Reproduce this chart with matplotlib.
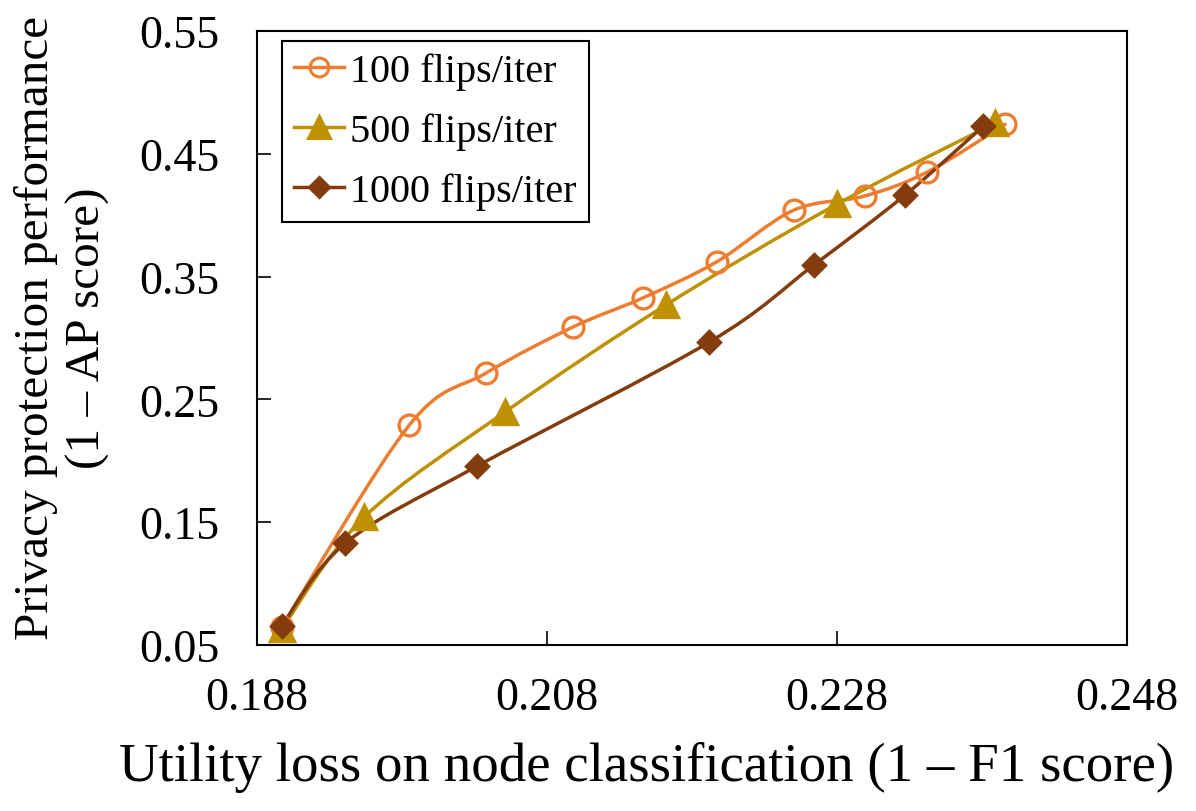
import matplotlib.pyplot as plt
from matplotlib.path import Path
from matplotlib.patches import PathPatch
from matplotlib.lines import Line2D

plt.rcParams['font.family'] = ['Liberation Serif', 'DejaVu Serif']

# Data
x_100 = [0.1897, 0.1985, 0.2038, 0.2098, 0.2146, 0.2197, 0.2250, 0.2299, 0.2342, 0.2396]
y_100 = [0.0647, 0.2290, 0.2715, 0.3090, 0.3326, 0.3620, 0.4040, 0.4156, 0.4350, 0.4740]

x_500 = [0.1897, 0.1954, 0.2051, 0.2162, 0.2280, 0.2389]
y_500 = [0.0630, 0.1542, 0.2397, 0.3269, 0.4090, 0.4750]

x_1000 = [0.1897, 0.1941, 0.2032, 0.2192, 0.2264, 0.2327, 0.2381]
y_1000 = [0.0655, 0.1330, 0.1958, 0.2967, 0.3594, 0.4165, 0.4726]

x_ticks = [0.188, 0.208, 0.228, 0.248]
y_ticks = [0.05, 0.15, 0.25, 0.35, 0.45, 0.55]

labels = ['100 flips/iter', '500 flips/iter', '1000 flips/iter']
colors = ['#ED7D31', '#BF9000', '#843C0C']


def smooth_path(xs, ys):
    # Excel-like smoothed line: cubic Bezier segments with Catmull-Rom control points
    pts = list(zip(xs, ys))
    n = len(pts)
    verts = [pts[0]]
    codes = [Path.MOVETO]
    for i in range(n - 1):
        p0 = pts[i - 1] if i > 0 else pts[i]
        p1 = pts[i]
        p2 = pts[i + 1]
        p3 = pts[i + 2] if i + 2 < n else pts[i + 1]
        c1 = (p1[0] + (p2[0] - p0[0]) / 6, p1[1] + (p2[1] - p0[1]) / 6)
        c2 = (p2[0] - (p3[0] - p1[0]) / 6, p2[1] - (p3[1] - p1[1]) / 6)
        verts += [c1, c2, p2]
        codes += [Path.CURVE4] * 3
    return Path(verts, codes)


fig = plt.figure(figsize=(11.96, 8.12), dpi=100)
ax = fig.add_axes([257 / 1196, 1 - 646 / 812, 870 / 1196, 614 / 812])

series = [
    (x_100, y_100, 'o', 15, False),
    (x_500, y_500, '^', 17, True),
    (x_1000, y_1000, 'D', 11.5, True),
]

handles = []
for (xs, ys, mk, ms, filled), col, lab in zip(series, colors, labels):
    ax.add_patch(PathPatch(smooth_path(xs, ys), fill=False, edgecolor=col, lw=2.5,
                           capstyle='round', joinstyle='round'))
    face = col if filled else 'none'
    ax.plot(xs, ys, ls='none', marker=mk, ms=ms, mfc=face, mec=col, mew=2.4)
    handles.append(Line2D([], [], color=col, lw=2.5, marker=mk, ms=ms * 0.9,
                          mfc=face, mec=col, mew=2.2))

ax.set_xlim(0.188, 0.248)
ax.set_ylim(0.05, 0.55)
ax.set_xticks(x_ticks)
ax.set_yticks(y_ticks)
ax.set_xticklabels([f'{v:.3f}' for v in x_ticks])
ax.set_yticklabels([f'{v:.2f}' for v in y_ticks])
ax.tick_params(axis='both', direction='in', length=10, width=1.2, labelsize=33)
ax.tick_params(axis='x', pad=23)
ax.tick_params(axis='y', pad=27)
for sp in ax.spines.values():
    sp.set_linewidth(1.5)

leg = ax.legend(handles=handles, labels=labels, loc='upper left', fontsize=29,
                bbox_to_anchor=(0.0287, 0.984), handlelength=1.25, handletextpad=0.15,
                borderpad=0.3, labelspacing=0.55, fancybox=False, framealpha=1,
                edgecolor='black', borderaxespad=0)
leg.get_frame().set_linewidth(1.5)

fig.text(647 / 1196, 1 - 768 / 812, 'Utility loss on node classification (1 \u2013 F1 score)',
         fontsize=39.5, ha='center', va='center')
fig.text(62 / 1196, 1 - 328 / 812, 'Privacy protection performance\n(1 \u2013 AP score)',
         fontsize=35.5, ha='center', va='center', rotation=90, linespacing=1.2)

fig.savefig('out.png', dpi=100)
